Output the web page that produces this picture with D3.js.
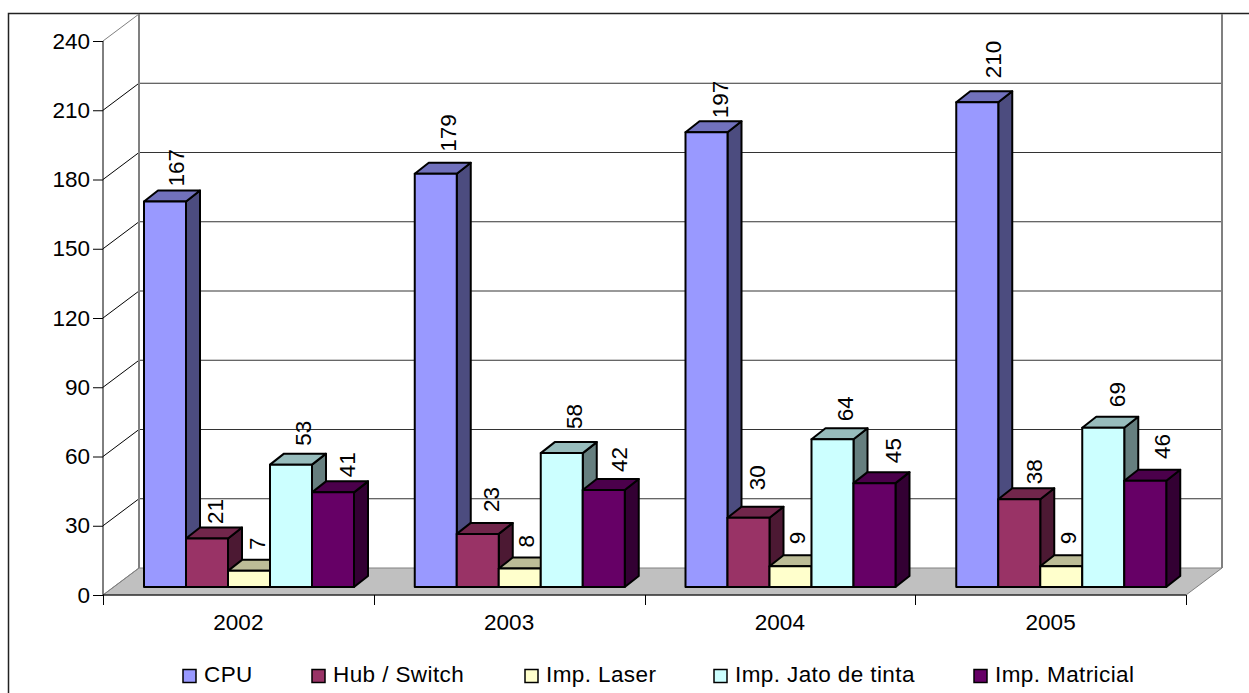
<!DOCTYPE html>
<html>
<head>
<meta charset="utf-8">
<script src="https://cdn.jsdelivr.net/npm/d3@7/dist/d3.min.js"></script>
<style>
html,body{margin:0;padding:0;background:#fff}
svg{display:block}
text{font-family:"Liberation Sans",Arial,sans-serif;fill:#000}
</style>
</head>
<body>
<svg id="chart" width="1249" height="693"></svg>
<script>
// Chart data
const years = ["2002", "2003", "2004", "2005"];
const seriesNames = ["CPU", "Hub / Switch", "Imp. Laser", "Imp. Jato de tinta", "Imp. Matricial"];
const cpu = [167, 179, 197, 210];
const hub = [21, 23, 30, 38];
const laser = [7, 8, 9, 9];
const jato = [53, 58, 64, 69];
const matricial = [41, 42, 45, 46];
const seriesValues = [cpu, hub, laser, jato, matricial];
const yTicks = [0, 30, 60, 90, 120, 150, 180, 210, 240];
const faceColors = ["#9999ff", "#993366", "#ffffcc", "#ccffff", "#660066"];

// Layout of the legend and label placement, kept apart from the values
const legendX = [183, 312, 525, 714, 974];
const labelGap = [[15, 22, 14, 24], [14.5, 22, 27.5, 15], [20.8, 21, 22, 22], [19, 24, 18, 20.6], [15, 18, 20, 21.8]];
const labelShift = [[11, 12, 14, 16], [8.5, 13, 8.5, 14.5], [8, 6, 6.5, 7], [12, 12, 13, 14], [14, 15, 18.5, 16.5]];

const FONT = 22.5;
const svg = d3.select("#chart");

// Frame of the chart area; its right and bottom edges run off the page
svg.append("rect").attr("x", 8.5).attr("y", 13.5).attr("width", 1300).attr("height", 800)
  .attr("fill", "#fff").attr("stroke", "#222").attr("stroke-width", 1.5);

// Projection of the 3D box: the back wall is shifted from the front plane by this much
const wallDX = 36, wallDY = -27;
const x = d3.scaleBand().domain(years).range([103, 1186]);
const y = d3.scaleLinear().domain([0, 240]).range([595, 41]);

// Bars stand in the middle of the floor depth
const barDX = 5, barDY = -8;
const depthDX = 14, depthDY = -11;
const barWidth = 42;
const seriesBand = d3.scaleBand().domain(d3.range(seriesNames.length))
  .range([36, 36 + barWidth * seriesNames.length]);

const pts = p => p.map(d => d.join(",")).join(" ");

// Floor
svg.append("polygon")
  .attr("points", pts([[103, y(0)], [1186, y(0)], [1186 + wallDX, y(0) + wallDY], [103 + wallDX, y(0) + wallDY]]))
  .attr("fill", "#c0c0c0").attr("stroke", "#808080").attr("stroke-width", 1);

// Back wall gridlines and their diagonals on the side wall
const grid = svg.append("g");
yTicks.filter(t => t > 0).forEach(t => {
  if (t < 240) {
    grid.append("line")
      .attr("x1", 103 + wallDX).attr("x2", 1186 + wallDX)
      .attr("y1", y(t) + wallDY).attr("y2", y(t) + wallDY)
      .attr("stroke", "#000").attr("stroke-width", 1).attr("stroke-opacity", 0.8);
  }
  grid.append("line")
    .attr("x1", 103).attr("x2", 103 + wallDX)
    .attr("y1", y(t)).attr("y2", y(t) + wallDY)
    .attr("stroke", t === 240 ? "#808080" : "#000").attr("stroke-width", 1);
});

// Wall edges
[103 + wallDX, 1186 + wallDX].forEach(px => {
  svg.append("line")
    .attr("x1", px).attr("x2", px).attr("y1", y(240) + wallDY).attr("y2", y(0) + wallDY)
    .attr("stroke", "#808080").attr("stroke-width", 2);
});
svg.append("line")
  .attr("x1", 103).attr("y1", y(0)).attr("x2", 103 + wallDX).attr("y2", y(0) + wallDY)
  .attr("stroke", "#808080").attr("stroke-width", 1);

// Front axes
const yAxis = d3.axisLeft(y).tickValues(yTicks).tickSize(10).tickPadding(3);
const gy = svg.append("g").attr("transform", "translate(103,0)").call(yAxis);
const xAxis = d3.axisBottom(x).tickSize(0).tickPadding(19);
const gx = svg.append("g").attr("transform", `translate(0,${y(0)})`).call(xAxis);
gy.selectAll("text").attr("font-size", FONT);
gx.selectAll("text").attr("font-size", FONT);
gx.selectAll("line").remove();
gy.select(".domain").attr("d", `M0,${y(240)}V${y(0)}`);
gx.select(".domain").attr("d", "M103,0H1186");
// Year separators below the front edge
const sep = svg.append("g");
d3.range(years.length + 1).forEach(i => {
  const px = i < years.length ? x(years[i]) : x.range()[1];
  sep.append("line").attr("x1", Math.round(px) + 0.5).attr("x2", Math.round(px) + 0.5)
    .attr("y1", y(0)).attr("y2", y(0) + 10).attr("stroke", "#000");
});

// Bars: each one as a side face, a top face and a front face
const groups = svg.append("g").attr("stroke", "#000").attr("stroke-width", 2).attr("stroke-linejoin", "round");
years.forEach((yr, yi) => {
  seriesNames.forEach((name, si) => {
    const v = seriesValues[si][yi];
    const x0 = x(yr) + seriesBand(si) + barDX;
    const x1 = x0 + seriesBand.bandwidth();
    const yTop = y(v) + barDY, yBot = y(0) + barDY;
    const base = d3.color(faceColors[si]);
    const g = groups.append("g");
    g.append("polygon").attr("fill", base.darker(1.95).formatHex())
      .attr("points", pts([[x1, yBot], [x1 + depthDX, yBot + depthDY], [x1 + depthDX, yTop + depthDY], [x1, yTop]]));
    g.append("polygon").attr("fill", base.darker(0.85).formatHex())
      .attr("points", pts([[x0, yTop], [x0 + depthDX, yTop + depthDY], [x1 + depthDX, yTop + depthDY], [x1, yTop]]));
    g.append("rect").attr("x", x0).attr("y", yTop).attr("width", x1 - x0).attr("height", yBot - yTop)
      .attr("fill", faceColors[si]);
  });
});

// Rotated value labels above each bar
const labels = svg.append("g");
years.forEach((yr, yi) => {
  seriesNames.forEach((name, si) => {
    const v = seriesValues[si][yi];
    const cx = x(yr) + seriesBand(si) + barDX + barWidth / 2 + labelShift[si][yi];
    const top = y(v) + barDY - labelGap[si][yi];
    labels.append("text")
      .attr("transform", `translate(${cx},${top}) rotate(-90)`)
      .attr("font-size", FONT)
      .attr("dy", "0.35em")
      .attr("text-anchor", "start")
      .text(v);
  });
});

// Legend
const legend = svg.append("g");
seriesNames.forEach((name, i) => {
  legend.append("rect").attr("x", legendX[i]).attr("y", 669.5).attr("width", 13).attr("height", 13)
    .attr("fill", faceColors[i]).attr("stroke", "#000").attr("stroke-width", 1.5);
  legend.append("text").attr("x", legendX[i] + 21).attr("y", 682).attr("font-size", FONT)
    .attr("letter-spacing", 0.4).text(name);
});
</script>
</body>
</html>
